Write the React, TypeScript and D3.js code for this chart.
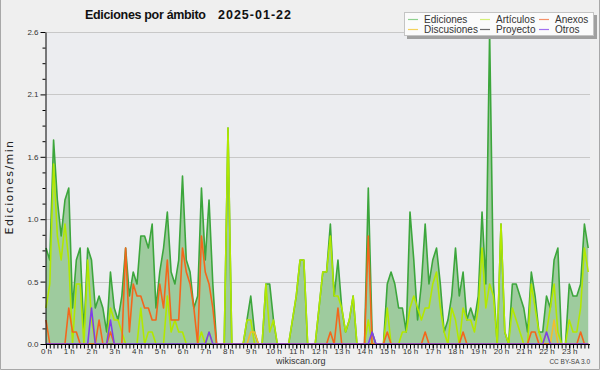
import React, { useEffect, useRef } from "react";
import * as d3 from "d3";

// one value per 10 minutes, edits per minute (00:00 .. 23:50)
const ediciones = [
  0.8, 0.7, 1.7, 1.2, 0.9, 1.2, 1.3, 0.3, 0.7, 0.8, 0.1, 0.8,
  0.7, 0.3, 0.4, 0.3, 0.1, 0.6, 0.3, 0.2, 0.4, 0.8, 0.4, 0.6,
  0.5, 0.9, 0.9, 0.8, 1.0, 0.3, 0.6, 0.8, 1.1, 0.6, 0.5, 0.7,
  1.4, 0.7, 0.6, 0.3, 0.4, 1.3, 0.7, 1.2, 0.5, 0, 0, 0,
  1.8, 0, 0, 0, 0, 0.2, 0.4, 0.1, 0, 0, 0.5, 0.5,
  0.2, 0, 0, 0, 0, 0.2, 0.4, 0.7, 0.7, 0, 0, 0,
  0.3, 0.6, 0.6, 1.0, 0.4, 0.7, 0.3, 0.1, 0.2, 0.4, 0, 0,
  0, 1.3, 0.1, 0, 0, 0, 0.5, 0.6, 0.5, 0.3, 0.3, 0.1,
  1.1, 0.7, 0.2, 0.5, 1.0, 0.5, 0.7, 0.8, 0.5, 0.1, 0.2, 0.4,
  0.8, 0.4, 0.6, 0.2, 0.3, 0.2, 0.4, 1.1, 0.5, 2.6, 0.5, 0,
  1.0, 0.1, 0, 0.5, 0.5, 0.4, 0.3, 0.1, 0.6, 0.4, 0.1, 0.1,
  0.4, 0.3, 0.7, 0.8, 0, 0, 0.5, 0.4, 0.4, 0.5, 1.0, 0.8,
];

const articulos = [
  0.3, 0.5, 1.5, 0.9, 0.7, 1.0, 0.7, 0, 0.5, 0.5, 0, 0.7,
  0.2, 0, 0, 0, 0, 0.3, 0.2, 0.2, 0.1, 0, 0, 0,
  0, 0.3, 0, 0.1, 0.1, 0, 0, 0, 0.4, 0.1, 0.2, 0.1,
  0.1, 0, 0, 0, 0, 0.1, 0, 0.1, 0, 0, 0, 0,
  1.8, 0, 0, 0, 0, 0.2, 0.2, 0, 0, 0, 0.5, 0.1,
  0.2, 0, 0, 0, 0, 0.2, 0.4, 0.7, 0.7, 0, 0, 0,
  0.3, 0.6, 0.6, 0.9, 0.4, 0.4, 0.3, 0.1, 0.2, 0.4, 0, 0,
  0, 0.2, 0, 0, 0, 0, 0.3, 0, 0, 0, 0.1, 0.1,
  0.3, 0.4, 0.3, 0.2, 0.3, 0.3, 0.5, 0.6, 0.3, 0.1, 0, 0.3,
  0.2, 0, 0.3, 0.2, 0.2, 0.1, 0.3, 0.8, 0.3, 0.5, 0.4, 0,
  1.0, 0.1, 0, 0.3, 0.2, 0.1, 0, 0, 0.5, 0.3, 0.1, 0,
  0.1, 0.3, 0.5, 0.1, 0, 0, 0.2, 0.1, 0.1, 0.3, 0.8, 0.6,
];

const anexos = [
  0.2, 0, 0, 0, 0, 0, 0.3, 0.1, 0.1, 0, 0, 0,
  0, 0, 0.2, 0, 0, 0.1, 0, 0, 0, 0.8, 0.1, 0.5,
  0.4, 0.4, 0.3, 0.3, 0.2, 0.2, 0.5, 0.3, 0.7, 0.2, 0.2, 0.2,
  0.8, 0.6, 0.5, 0.3, 0, 0.9, 0.6, 0.5, 0.3, 0, 0, 0,
  0, 0, 0, 0, 0, 0, 0, 0, 0, 0, 0, 0,
  0, 0, 0, 0, 0, 0, 0, 0, 0, 0, 0, 0,
  0, 0, 0, 0.1, 0, 0.3, 0, 0, 0, 0, 0, 0,
  0, 0.9, 0, 0, 0, 0, 0.1, 0, 0, 0, 0, 0,
  0, 0, 0, 0, 0.1, 0, 0, 0, 0, 0, 0, 0,
  0, 0, 0.1, 0, 0, 0, 0, 0, 0, 0, 0, 0,
  0, 0, 0, 0, 0, 0, 0, 0, 0.1, 0.1, 0, 0,
  0, 0, 0, 0, 0, 0, 0, 0, 0, 0.1, 0, 0,
];

const discusiones = [
  0, 0, 0, 0, 0, 0, 0, 0, 0, 0, 0, 0,
  0, 0, 0, 0, 0, 0, 0, 0, 0, 0, 0, 0,
  0, 0, 0, 0, 0, 0, 0, 0, 0, 0, 0, 0,
  0, 0, 0, 0, 0, 0, 0, 0, 0, 0, 0, 0,
  0, 0, 0, 0, 0, 0, 0.1, 0.1, 0, 0, 0, 0,
  0, 0, 0, 0, 0, 0, 0, 0, 0, 0, 0, 0,
  0, 0, 0, 0, 0, 0, 0, 0, 0, 0, 0, 0,
  0, 0, 0, 0, 0, 0, 0, 0, 0, 0, 0, 0,
  0, 0, 0, 0, 0, 0, 0, 0, 0, 0, 0, 0,
  0, 0, 0, 0, 0, 0, 0, 0, 0, 0, 0, 0,
  0, 0, 0, 0, 0, 0, 0, 0, 0, 0, 0, 0,
  0, 0, 0.2, 0, 0, 0, 0, 0, 0, 0, 0, 0,
];

const proyecto = [
  0, 0, 0, 0, 0, 0, 0, 0, 0, 0, 0, 0,
  0, 0, 0, 0, 0, 0, 0, 0, 0, 0, 0, 0,
  0, 0, 0, 0, 0, 0, 0, 0, 0, 0, 0, 0,
  0, 0, 0, 0, 0, 0, 0, 0, 0, 0, 0, 0,
  0, 0, 0, 0, 0, 0, 0, 0, 0, 0, 0, 0,
  0, 0, 0, 0, 0, 0, 0, 0, 0, 0, 0, 0,
  0, 0, 0, 0, 0, 0, 0, 0, 0, 0, 0, 0,
  0, 0, 0, 0, 0, 0, 0, 0, 0, 0, 0, 0,
  0, 0, 0, 0, 0, 0, 0, 0, 0, 0, 0, 0,
  0, 0, 0, 0, 0, 0, 0, 0, 0, 0, 0, 0,
  0, 0, 0, 0, 0, 0, 0, 0, 0, 0, 0, 0,
  0, 0, 0, 0, 0, 0, 0, 0, 0, 0, 0, 0,
];

const otros = [
  0, 0, 0, 0, 0, 0, 0, 0, 0, 0, 0, 0,
  0.3, 0, 0, 0, 0, 0.2, 0, 0, 0, 0, 0, 0,
  0, 0, 0, 0, 0, 0, 0, 0, 0, 0, 0, 0,
  0, 0, 0, 0, 0, 0, 0, 0.1, 0, 0, 0, 0,
  0, 0, 0, 0, 0, 0, 0, 0, 0, 0, 0, 0,
  0, 0, 0, 0, 0, 0, 0, 0, 0, 0, 0, 0,
  0, 0, 0, 0, 0, 0, 0, 0, 0, 0, 0, 0,
  0, 0, 0.1, 0, 0, 0, 0, 0, 0, 0, 0, 0,
  0, 0, 0, 0, 0, 0, 0, 0, 0, 0, 0, 0,
  0, 0, 0, 0, 0, 0, 0, 0, 0, 0, 0, 0,
  0, 0, 0, 0, 0, 0, 0, 0, 0, 0, 0, 0,
  0.1, 0, 0, 0, 0, 0, 0, 0, 0, 0, 0, 0,
];

const seriesNames = ["Ediciones", "Artículos", "Anexos", "Discusiones", "Proyecto", "Otros"];
const hourLabels = [
  "0 h", "1 h", "2 h", "3 h", "4 h", "5 h", "6 h", "7 h", "8 h", "9 h", "10 h", "11 h",
  "12 h", "13 h", "14 h", "15 h", "16 h", "17 h", "18 h", "19 h", "20 h", "21 h", "22 h", "23 h",
];
const yTicks = [0, 0.52, 1.04, 1.56, 2.08, 2.6];
const yMinorTicks = [0.13, 0.26, 0.39, 0.65, 0.78, 0.91, 1.17, 1.3, 1.43, 1.69, 1.82, 1.95, 2.21, 2.34, 2.47];

const lineColors = ["#3ca63c", "#b2e800", "#f4661b", "#f2bd2c", "#555555", "#7f3fe8"];
const legendColors = ["#8fd18f", "#d4ef78", "#f5926a", "#f4d25c", "#6b6b6b", "#a070f0"];

const App = () => {
  const svgRef = useRef(null);

  useEffect(() => {
    const svg = d3.select(svgRef.current);
    svg.selectAll("*").remove();

    const left = 46, right = 590, top = 32, bottom = 344;
    const x = d3.scaleLinear().domain([0, 1440]).range([left, 592]);
    const y = d3.scaleLinear().domain([0, 2.6]).range([bottom, top]);
    const minutes = ediciones.map((d, i) => i * 10);

    // backgrounds
    svg.append("rect").attr("width", 600).attr("height", 370).attr("fill", "#efefef");
    svg
      .append("path")
      .attr("d", "M0.5,0 V369.5 H599.5 V0")
      .attr("fill", "none")
      .attr("stroke", "#a8a8a8");
    svg
      .append("rect")
      .attr("x", left)
      .attr("y", top)
      .attr("width", right - left)
      .attr("height", bottom - top)
      .attr("fill", "#ecedf0");

    // grid
    svg
      .selectAll(".grid")
      .data(yTicks.filter((t) => t > 0))
      .enter()
      .append("line")
      .attr("x1", left)
      .attr("x2", right)
      .attr("y1", (d) => Math.round(y(d)) + 0.5)
      .attr("y2", (d) => Math.round(y(d)) + 0.5)
      .attr("stroke", "#c8c8c8");

    // series
    const area = d3
      .area()
      .x((d, i) => x(minutes[i]))
      .y0(y(0))
      .y1((d) => y(d));
    const line = d3
      .line()
      .x((d, i) => x(minutes[i]))
      .y((d) => y(d));

    svg.append("path").attr("d", area(ediciones)).attr("fill", "#9ecb9e");

    const drawn = [
      [ediciones, 0],
      [articulos, 1],
      [discusiones, 3],
      [proyecto, 4],
      [anexos, 2],
      [otros, 5],
    ];
    drawn.forEach(([values, k]) => {
      svg
        .append("path")
        .attr("d", line(values))
        .attr("fill", "none")
        .attr("stroke", lineColors[k])
        .attr("stroke-width", 1.6)
        .attr("stroke-linejoin", "round");
    });

    // y axis
    const yAxis = svg.append("g").attr("transform", `translate(${left - 0.5},0)`);
    yAxis.call(
      d3.axisLeft(y).tickValues(yTicks).tickFormat(d3.format(".1f")).tickSize(5).tickSizeOuter(0).tickPadding(2)
    );
    const yMinor = svg.append("g").attr("transform", `translate(${left - 0.5},0)`);
    yMinor.call(d3.axisLeft(y).tickValues(yMinorTicks).tickFormat(() => "").tickSize(3).tickSizeOuter(0));
    yMinor.select(".domain").remove();

    // x axis
    const xAxis = svg.append("g").attr("transform", `translate(0,${bottom + 0.5})`);
    xAxis.call(
      d3
        .axisBottom(x)
        .tickValues(hourLabels.map((d, i) => i * 60))
        .tickFormat((d, i) => hourLabels[i])
        .tickSize(4)
        .tickSizeOuter(0)
        .tickPadding(0)
    );
    xAxis.select(".domain").remove();
    const xMinor = svg.append("g").attr("transform", `translate(0,${bottom + 0.5})`);
    xMinor.call(d3.axisBottom(x).tickValues(minutes).tickFormat(() => "").tickSize(4).tickSizeOuter(0));
    xMinor.select(".domain").remove();
    svg
      .append("line")
      .attr("x1", left - 1)
      .attr("x2", right)
      .attr("y1", bottom + 0.5)
      .attr("y2", bottom + 0.5)
      .attr("stroke", "#000");

    svg
      .selectAll(".tick text")
      .attr("font-family", "Liberation Sans, Arial, sans-serif")
      .attr("font-size", 8)
      .attr("fill", "#333");
    svg.selectAll(".tick line").attr("stroke", "#000");
    svg.selectAll(".domain").attr("stroke", "#000");

    // titles
    svg
      .append("text")
      .attr("x", 85)
      .attr("y", 19)
      .attr("font-family", "Liberation Sans, Arial, sans-serif")
      .attr("font-weight", "bold")
      .attr("font-size", 12.5)
      .attr("textLength", 121)
      .attr("lengthAdjust", "spacing")
      .attr("fill", "#111")
      .text("Ediciones por ámbito");
    svg
      .append("text")
      .attr("x", 218)
      .attr("y", 19)
      .attr("font-family", "Liberation Sans, Arial, sans-serif")
      .attr("font-weight", "bold")
      .attr("font-size", 12.5)
      .attr("textLength", 73)
      .attr("lengthAdjust", "spacing")
      .attr("fill", "#111")
      .text("2025-01-22");

    svg
      .append("text")
      .attr("transform", "translate(13,187) rotate(-90)")
      .attr("text-anchor", "middle")
      .attr("font-family", "DejaVu Sans, sans-serif")
      .attr("font-size", 11)
      .attr("letter-spacing", 1.4)
      .attr("fill", "#222")
      .text("Ediciones/min");

    svg
      .append("text")
      .attr("x", 276)
      .attr("y", 364)
      .attr("font-family", "Liberation Sans, Arial, sans-serif")
      .attr("font-size", 9)
      .attr("fill", "#333")
      .text("wikiscan.org");
    svg
      .append("text")
      .attr("x", 590)
      .attr("y", 364)
      .attr("text-anchor", "end")
      .attr("font-family", "Liberation Sans, Arial, sans-serif")
      .attr("font-size", 6.5)
      .attr("fill", "#444")
      .text("CC BY-SA 3.0");

    // legend
    svg.append("rect").attr("x", 407).attr("y", 15).attr("width", 190).attr("height", 24).attr("fill", "#a0a0a0");
    svg
      .append("rect")
      .attr("x", 404.5)
      .attr("y", 12.5)
      .attr("width", 189)
      .attr("height", 23)
      .attr("fill", "#fbfbfb")
      .attr("stroke", "#c4c4c4");
    const colX = [408, 480, 539];
    const rowY = [19.5, 29.5];
    const order = [0, 1, 2, 3, 4, 5];
    order.forEach((k, n) => {
      const cx = colX[n % 3];
      const cy = rowY[Math.floor(n / 3)];
      svg
        .append("line")
        .attr("x1", cx)
        .attr("x2", cx + 10)
        .attr("y1", cy)
        .attr("y2", cy)
        .attr("stroke", legendColors[k])
        .attr("stroke-width", 1.2);
      svg
        .append("text")
        .attr("x", cx + 16)
        .attr("y", cy + 3.3)
        .attr("font-family", "Liberation Sans, Arial, sans-serif")
        .attr("font-size", 10)
        .attr("fill", "#333")
        .text(seriesNames[k]);
    });

    return () => {
      svg.selectAll("*").remove();
    };
  }, []);

  return (
    <div style={{ position: "absolute", left: 0, top: 0 }}>
      <svg ref={svgRef} width={600} height={370} style={{ display: "block" }} />
    </div>
  );
};

export default App;
